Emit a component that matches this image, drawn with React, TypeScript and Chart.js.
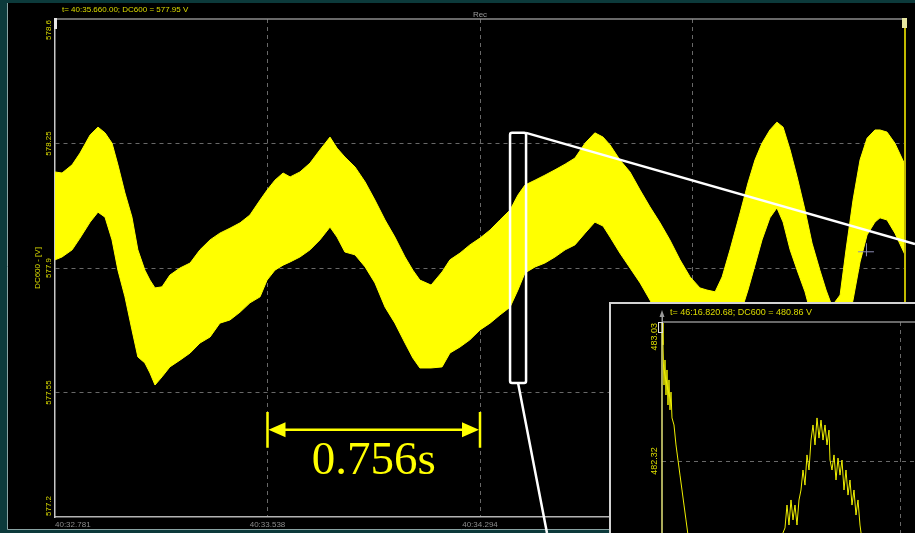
import { useEffect, useRef } from "react";
import { Chart, registerables } from "chart.js";

Chart.register(...registerables);

// DC600 recording: envelope of the sampled voltage.
// Sample times in seconds after 40:32.781, with the max / min voltage seen at each.
const times = [
  0.0, 0.025, 0.061, 0.089, 0.125, 0.153, 0.178, 0.203, 0.224, 0.249,
  0.274, 0.295, 0.32, 0.338, 0.356, 0.381, 0.409, 0.445, 0.481, 0.516,
  0.552, 0.587, 0.623, 0.659, 0.694, 0.73, 0.755, 0.783, 0.812, 0.837,
  0.872, 0.908, 0.943, 0.979, 1.004, 1.032, 1.068, 1.104, 1.139, 1.175,
  1.21, 1.246, 1.274, 1.299, 1.339, 1.378, 1.406, 1.442, 1.477, 1.513,
  1.549, 1.584, 1.62, 1.648, 1.673, 1.709, 1.744, 1.78, 1.816, 1.851,
  1.887, 1.922, 1.951, 1.976, 2.011, 2.047, 2.083, 2.118, 2.154, 2.189,
  2.225, 2.261, 2.296, 2.321, 2.35, 2.375, 2.403, 2.439, 2.467, 2.492,
  2.517, 2.545, 2.57, 2.592, 2.617, 2.642, 2.67, 2.695, 2.723, 2.745,
  2.766, 2.795, 2.816, 2.841, 2.866, 2.891, 2.919, 2.937, 2.962, 2.99,
  3.026,
];

const upperV = [
  578.17, 578.167, 578.19, 578.223, 578.274, 578.296, 578.28, 578.251, 578.19, 578.111,
  578.043, 577.951, 577.894, 577.866, 577.844, 577.847, 577.88, 577.9, 577.914, 577.951,
  577.979, 577.998, 578.012, 578.027, 578.049, 578.091, 578.119, 578.147, 578.167, 578.156,
  578.17, 578.195, 578.232, 578.268, 578.237, 578.212, 578.184, 578.142, 578.091, 578.035,
  577.987, 577.931, 577.894, 577.866, 577.852, 577.889, 577.923, 577.942, 577.965, 577.984,
  578.007, 578.035, 578.063, 578.105, 578.133, 578.147, 578.161, 578.176, 578.192, 578.209,
  578.251, 578.28, 578.268, 578.246, 578.204, 578.17, 578.119, 578.072, 578.027, 577.979,
  577.923, 577.875, 577.844, 577.838, 577.833, 577.875, 577.951, 578.055, 578.139, 578.204,
  578.251, 578.288, 578.31, 578.296, 578.232, 578.156, 578.063, 577.97, 577.894, 577.838,
  577.793, 577.824, 577.951, 578.091, 578.204, 578.265, 578.288, 578.288, 578.282, 578.251,
  578.19,
];

const lowerV = [
  577.923, 577.931, 577.951, 577.984, 578.029, 578.057, 578.043, 577.979, 577.894, 577.819,
  577.726, 577.65, 577.633, 577.605, 577.571, 577.594, 577.622, 577.641, 577.661, 577.689,
  577.706, 577.745, 577.754, 577.776, 577.802, 577.819, 577.866, 577.894, 577.908, 577.917,
  577.931, 577.951, 577.979, 578.015, 577.987, 577.945, 577.937, 577.903, 577.858, 577.79,
  577.745, 577.689, 577.647, 577.619, 577.619, 577.622, 577.661, 577.678, 577.698, 577.726,
  577.745, 577.768, 577.79, 577.838, 577.886, 577.903, 577.914, 577.931, 577.951, 577.965,
  577.998, 578.029, 578.018, 577.987, 577.942, 577.9, 577.858, 577.81, 577.754, 577.703,
  577.655, 577.608, 577.571, 577.551, 577.543, 577.608, 577.684, 577.768, 577.838, 577.908,
  577.979, 578.041, 578.069, 578.029, 577.951, 577.894, 577.833, 577.759, 577.67, 577.599,
  577.551, 577.641, 577.726, 577.81, 577.917, 577.993, 578.029, 578.041, 578.035, 577.998,
  577.937,
];

const xTickValues = [0, 0.7565, 1.513, 2.2695, 3.026];
const xTickLabels = ["40:32.781", "40:33.538", "40:34.294", "40:35.051", "40:35.807"];
const yTickValues = [577.2, 577.55, 577.9, 578.25, 578.6];
const yTickLabels = ["577.2", "577.55", "577.9", "578.25", "578.6"];

const headerText = "t= 40:35.660.00; DC600 = 577.95 V";
const recText = "Rec";
const yTitle = "DC600 - [V]";

// Period marker between two crests
const periodStart = 0.7565;
const periodEnd = 1.513;
const periodLabel = "0.756s";
const periodLevel = 577.445;
const periodBarHalf = 0.0505;

// Zoom window on the rising edge and its guide rays
const zoomT0 = 1.62;
const zoomT1 = 1.677;
const zoomVLow = 577.577;
const zoomVHigh = 578.28;
const rayTopEnd = { t: 3.0616, v: 577.967 };
const rayBottomEnd = { t: 1.7515, v: 577.155 };
const cursorMark = { t: 2.887, v: 577.947 };

// Zoomed trace (time in ms from the window start)
const insetTimes = [
  0.0, 0.042, 0.084, 0.126, 0.168, 0.21, 0.252, 0.294, 0.336, 0.378, 0.42,
  0.504, 0.588, 0.672, 0.756, 0.84, 0.924, 1.008, 1.092, 1.176,
  1.597, 2.227, 3.067, 3.908, 4.538, 4.958,
  5.168, 5.252, 5.336, 5.42, 5.504, 5.588, 5.672, 5.756, 5.84, 5.924, 6.008, 6.092,
  6.176, 6.261, 6.345, 6.429, 6.513, 6.597, 6.681, 6.765, 6.849, 6.933, 7.017,
  7.059, 7.143, 7.227, 7.311, 7.395, 7.479, 7.563, 7.647, 7.731, 7.815, 7.899,
  7.983, 8.067, 8.151, 8.235, 8.319, 8.403,
  9.16, 10.0, 10.84,
];
const insetV = [
  483.025, 482.913, 482.708, 482.836, 482.657, 482.785, 482.606, 482.734, 482.581, 482.672, 482.54,
  482.504, 482.402, 482.325, 482.248, 482.172, 482.095, 482.019, 481.942, 481.865,
  481.763, 481.687, 481.651, 481.702, 481.814, 481.916,
  481.978, 482.095, 481.993, 482.121, 482.019, 482.095, 481.993, 482.121, 482.172, 482.274, 482.197, 482.351,
  482.274, 482.427, 482.504, 482.402, 482.54, 482.437, 482.529, 482.427, 482.504, 482.402, 482.478,
  482.325, 482.274, 482.351, 482.223, 482.335, 482.248, 482.325, 482.172, 482.274, 482.146, 482.223,
  482.095, 482.172, 482.044, 482.121, 481.993, 481.916,
  481.738, 481.687, 481.738,
];
const insetXTicks = [0, 10, 20];
const insetYTicks = [481.61, 482.32, 483.03];
const insetYLabels = ["481.61", "482.32", "483.03"];
const insetHeader = "t= 46:16.820.68; DC600 = 480.86 V";

const FONT = '"Liberation Sans", Arial, sans-serif';
const SERIF = '"Liberation Serif", "Times New Roman", serif';
const TEAL = "#0c3a3b";
const BAND = "#ffff00";
const LABEL_YELLOW = "#dcdc00";
const GRID = "#686868";

const innerGrid = (n: number) => (c: any) =>
  c.index === 0 || c.index === n - 1 ? "rgba(0,0,0,0)" : GRID;

function drawRotatedLabels(ctx: any, scale: any, values: number[], labels: string[], x: number, size: number) {
  ctx.save();
  ctx.font = `${size}px ${FONT}`;
  ctx.fillStyle = LABEL_YELLOW;
  ctx.textBaseline = "middle";
  const n = values.length;
  values.forEach((v, i) => {
    const py = scale.getPixelForValue(v);
    ctx.save();
    ctx.translate(x, py);
    ctx.rotate(-Math.PI / 2);
    ctx.textAlign = i === 0 ? "left" : i === n - 1 ? "right" : "center";
    ctx.fillText(labels[i], i === 0 ? 1 : i === n - 1 ? -1 : 0, 0);
    ctx.restore();
  });
  ctx.restore();
}

const mainDecor = {
  id: "mainDecor",
  beforeDraw(chart: any) {
    const { ctx, width } = chart;
    ctx.save();
    ctx.fillStyle = TEAL;
    ctx.fillRect(0, 0, width, chart.height);
    ctx.fillStyle = "#000";
    ctx.fillRect(8, 3, width - 8, 526);
    ctx.strokeStyle = "#8aa3a3";
    ctx.lineWidth = 1;
    ctx.beginPath();
    ctx.moveTo(7.5, 3);
    ctx.lineTo(7.5, 529.5);
    ctx.lineTo(width, 529.5);
    ctx.stroke();
    ctx.restore();
  },
  afterDraw(chart: any) {
    const { ctx, chartArea: a } = chart;
    const xs = chart.scales.x;
    const ys = chart.scales.y;
    ctx.save();

    // frame top and right-hand cursor
    ctx.strokeStyle = "#8c8c8c";
    ctx.lineWidth = 1.5;
    ctx.beginPath();
    ctx.moveTo(a.left, a.top);
    ctx.lineTo(a.right, a.top);
    ctx.stroke();
    ctx.strokeStyle = "#c2ba00";
    ctx.lineWidth = 2;
    ctx.beginPath();
    ctx.moveTo(a.right, a.top);
    ctx.lineTo(a.right, a.bottom);
    ctx.stroke();
    ctx.fillStyle = "#e6e6e6";
    ctx.fillRect(a.left - 1, a.top - 1, 3, 11);
    ctx.fillStyle = "#e6e6a0";
    ctx.fillRect(a.right - 3, a.top - 1, 5, 10);

    // header texts
    ctx.font = `8px ${FONT}`;
    ctx.fillStyle = LABEL_YELLOW;
    ctx.textAlign = "left";
    ctx.textBaseline = "alphabetic";
    ctx.fillText(headerText, 62, 12);
    ctx.fillStyle = "#9a9a9a";
    ctx.textAlign = "center";
    ctx.fillText(recText, xs.getPixelForValue(xTickValues[2]), 17);

    drawRotatedLabels(ctx, ys, yTickValues, yTickLabels, 48.5, 8);

    // period marker
    const x0 = xs.getPixelForValue(periodStart);
    const x1 = xs.getPixelForValue(periodEnd);
    const yc = ys.getPixelForValue(periodLevel);
    const yT = ys.getPixelForValue(periodLevel + periodBarHalf);
    const yB = ys.getPixelForValue(periodLevel - periodBarHalf);
    ctx.strokeStyle = BAND;
    ctx.fillStyle = BAND;
    ctx.lineWidth = 2.5;
    ctx.beginPath();
    ctx.moveTo(x0, yT);
    ctx.lineTo(x0, yB);
    ctx.moveTo(x1, yT);
    ctx.lineTo(x1, yB);
    ctx.moveTo(x0 + 10, yc);
    ctx.lineTo(x1 - 10, yc);
    ctx.stroke();
    ctx.beginPath();
    ctx.moveTo(x0 + 1, yc);
    ctx.lineTo(x0 + 18, yc - 7.5);
    ctx.lineTo(x0 + 18, yc + 7.5);
    ctx.closePath();
    ctx.moveTo(x1 - 1, yc);
    ctx.lineTo(x1 - 18, yc - 7.5);
    ctx.lineTo(x1 - 18, yc + 7.5);
    ctx.closePath();
    ctx.fill();
    ctx.font = `47px ${SERIF}`;
    ctx.textAlign = "center";
    ctx.textBaseline = "alphabetic";
    ctx.fillText(periodLabel, (x0 + x1) / 2, yc + 44);

    // zoom window and guide rays
    const rx0 = xs.getPixelForValue(zoomT0);
    const rx1 = xs.getPixelForValue(zoomT1);
    const ry0 = ys.getPixelForValue(zoomVHigh);
    const ry1 = ys.getPixelForValue(zoomVLow);
    ctx.strokeStyle = "#ffffff";
    ctx.lineWidth = 2.5;
    ctx.beginPath();
    ctx.moveTo(rx1, ry0);
    ctx.lineTo(xs.getPixelForValue(rayTopEnd.t), ys.getPixelForValue(rayTopEnd.v));
    ctx.moveTo((rx0 + rx1) / 2, ry1);
    ctx.lineTo(xs.getPixelForValue(rayBottomEnd.t), ys.getPixelForValue(rayBottomEnd.v));
    ctx.stroke();
    ctx.beginPath();
    ctx.roundRect(rx0, ry0, rx1 - rx0, ry1 - ry0, 2);
    ctx.stroke();

    // pointer cross
    const cx = xs.getPixelForValue(cursorMark.t);
    const cy = ys.getPixelForValue(cursorMark.v);
    ctx.strokeStyle = "#8c8cb4";
    ctx.lineWidth = 1;
    ctx.beginPath();
    ctx.moveTo(cx - 8, cy + 0.5);
    ctx.lineTo(cx + 8, cy + 0.5);
    ctx.moveTo(cx + 0.5, cy - 8);
    ctx.lineTo(cx + 0.5, cy + 5);
    ctx.stroke();
    ctx.restore();
  },
};

const insetDecor = {
  id: "insetDecor",
  beforeDraw(chart: any) {
    const { ctx, width, height } = chart;
    ctx.save();
    ctx.fillStyle = "#000";
    ctx.fillRect(0, 0, width, height);
    ctx.strokeStyle = "#d2d2d2";
    ctx.lineWidth = 2;
    ctx.beginPath();
    ctx.moveTo(1, height);
    ctx.lineTo(1, 1);
    ctx.lineTo(width, 1);
    ctx.stroke();
    ctx.restore();
  },
  afterDraw(chart: any) {
    const { ctx, chartArea: a, width } = chart;
    const ys = chart.scales.y;
    ctx.save();
    ctx.strokeStyle = "#8c8c8c";
    ctx.lineWidth = 1.5;
    ctx.beginPath();
    ctx.moveTo(a.left, a.top);
    ctx.lineTo(width, a.top);
    ctx.stroke();
    ctx.strokeStyle = "#e4e47a";
    ctx.beginPath();
    ctx.moveTo(a.left, a.top);
    ctx.lineTo(a.left, a.bottom);
    ctx.stroke();
    // cursor handle
    ctx.fillStyle = "#9a9a9a";
    ctx.beginPath();
    ctx.moveTo(a.left, a.top - 12);
    ctx.lineTo(a.left - 2.5, a.top - 5);
    ctx.lineTo(a.left + 2.5, a.top - 5);
    ctx.closePath();
    ctx.fill();
    ctx.fillRect(a.left - 0.5, a.top - 6, 1.5, 6);
    ctx.strokeStyle = "#e0e0e0";
    ctx.lineWidth = 1;
    ctx.strokeRect(a.left - 3.5, a.top + 0.5, 4, 10);

    ctx.font = `9px ${FONT}`;
    ctx.fillStyle = LABEL_YELLOW;
    ctx.textAlign = "left";
    ctx.textBaseline = "alphabetic";
    ctx.fillText(insetHeader, 61, 13);
    drawRotatedLabels(ctx, ys, insetYTicks, insetYLabels, 45.5, 9);
    ctx.restore();
  },
};

export default function App() {
  const mainRef = useRef<HTMLCanvasElement>(null);
  const insetRef = useRef<HTMLCanvasElement>(null);

  useEffect(() => {
    const main = new Chart(mainRef.current as HTMLCanvasElement, {
      type: "line",
      data: {
        datasets: [
          {
            label: "max",
            data: times.map((t, i) => ({ x: t, y: upperV[i] })),
            borderColor: BAND,
            backgroundColor: BAND,
            borderWidth: 1,
            pointRadius: 0,
            fill: "+1",
            tension: 0,
          },
          {
            label: "min",
            data: times.map((t, i) => ({ x: t, y: lowerV[i] })),
            borderColor: BAND,
            borderWidth: 1,
            pointRadius: 0,
            fill: false,
            tension: 0,
          },
        ],
      },
      options: {
        animation: false,
        responsive: false,
        events: [],
        layout: { padding: { left: 8, top: 19, right: 10, bottom: 4 } },
        plugins: { legend: { display: false }, tooltip: { enabled: false } },
        scales: {
          x: {
            type: "linear",
            min: 0,
            max: 3.026,
            afterBuildTicks: (s: any) => {
              s.ticks = xTickValues.map((v) => ({ value: v }));
            },
            afterFit: (s: any) => {
              s.height = 12;
            },
            ticks: {
              autoSkip: false,
              maxRotation: 0,
              minRotation: 0,
              align: "inner",
              padding: 3,
              color: "#8c8c8c",
              font: { family: FONT, size: 8 },
              callback: (_v: any, i: number) => xTickLabels[i],
            },
            grid: { color: innerGrid(xTickValues.length), lineWidth: 1, drawTicks: false },
            border: { display: true, color: "#b4b4b4", width: 1.5, dash: [4, 4] },
          },
          y: {
            type: "linear",
            min: 577.2,
            max: 578.6,
            afterBuildTicks: (s: any) => {
              s.ticks = yTickValues.map((v) => ({ value: v }));
            },
            afterFit: (s: any) => {
              s.width = 47;
            },
            ticks: { display: false },
            grid: { color: innerGrid(yTickValues.length), lineWidth: 1, drawTicks: false },
            border: { display: true, color: "#c8c8c8", width: 1.5, dash: [4, 4] },
            title: {
              display: true,
              text: yTitle,
              color: LABEL_YELLOW,
              font: { family: FONT, size: 8 },
              padding: { top: 25, bottom: 0 },
            },
          },
        },
      } as any,
      plugins: [mainDecor],
    });

    const inset = new Chart(insetRef.current as HTMLCanvasElement, {
      type: "line",
      data: {
        datasets: [
          {
            label: "DC600",
            data: insetTimes.map((t, i) => ({ x: t, y: insetV[i] })),
            borderColor: "#f0f000",
            borderWidth: 1,
            pointRadius: 0,
            fill: false,
            tension: 0,
          },
        ],
      },
      options: {
        animation: false,
        responsive: false,
        events: [],
        layout: { padding: { left: 0, top: 20, right: 11, bottom: 0 } },
        plugins: { legend: { display: false }, tooltip: { enabled: false } },
        scales: {
          x: {
            type: "linear",
            min: 0,
            max: 20,
            afterBuildTicks: (s: any) => {
              s.ticks = insetXTicks.map((v) => ({ value: v }));
            },
            afterFit: (s: any) => {
              s.height = 18;
            },
            ticks: { display: false },
            grid: { color: innerGrid(insetXTicks.length), drawTicks: false },
            border: { display: false, dash: [4, 4] },
          },
          y: {
            type: "linear",
            min: 481.61,
            max: 483.03,
            afterBuildTicks: (s: any) => {
              s.ticks = insetYTicks.map((v) => ({ value: v }));
            },
            afterFit: (s: any) => {
              s.width = 53;
            },
            ticks: { display: false },
            grid: { color: innerGrid(insetYTicks.length), drawTicks: false },
            border: { display: false, dash: [4, 4] },
          },
        },
      } as any,
      plugins: [insetDecor],
    });

    return () => {
      main.destroy();
      inset.destroy();
    };
  }, []);

  return (
    <div
      style={{
        position: "fixed",
        left: 0,
        top: 0,
        width: 915,
        height: 533,
        overflow: "hidden",
        background: TEAL,
      }}
    >
      <canvas
        ref={mainRef}
        width={915}
        height={533}
        style={{ position: "absolute", left: 0, top: 0, width: 915, height: 533 }}
      />
      <canvas
        ref={insetRef}
        width={540}
        height={316}
        style={{ position: "absolute", left: 609, top: 302, width: 540, height: 316 }}
      />
    </div>
  );
}
